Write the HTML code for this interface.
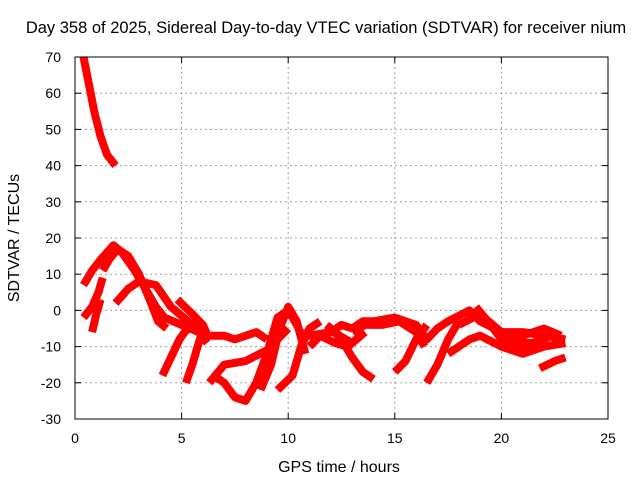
<!DOCTYPE html>
<html><head><meta charset="utf-8"><style>
body{margin:0;background:#fff}
svg text{font-family:"Liberation Sans",sans-serif;font-size:14px;fill:#000}
</style></head><body>
<svg id="c" width="640" height="480">
<text x="326" y="33" text-anchor="middle" style="font-size:16.5px">Day 358 of 2025, Sidereal Day-to-day VTEC variation (SDTVAR) for receiver nium</text>
<text x="339" y="472" text-anchor="middle" style="font-size:16px">GPS time / hours</text>
<text transform="translate(19,238) rotate(-90)" text-anchor="middle" style="font-size:16px">SDTVAR / TECUs</text>
<g id="grid"></g><g id="ticks"></g><g id="marks"></g>
<rect x="75" y="57" width="533" height="362" fill="none" stroke="#000"/>
</svg>
<script>
const xTicks=[0,5,10,15,20,25];
const yTicks=[70,60,50,40,30,20,10,0,-10,-20,-30];
const trackA=[[0.4,70],[0.6,64],[0.9,55],[1.2,48],[1.5,43],[1.9,40]];
const trackB=[[0.4,7],[0.8,11],[1.2,14],[1.8,18],[2.2,16],[2.8,11],[3.3,6],[3.8,1],[4.2,-2],[5,-4],[5.8,-6],[6.2,-9]];
const trackC=[[1.3,11],[1.6,14],[2,17],[2.5,15],[3,10],[3.5,3],[3.9,-3],[4.3,-5]];
const trackD=[[0.4,-2],[0.8,1],[1.1,5],[1.3,9]];
const trackE=[[0.8,-6],[1,-1],[1.2,3]];
const trackF=[[1.9,2],[2.5,6],[3,8],[3.8,7],[4.5,1],[5.5,-4],[6,-7]];
const trackG=[[4.1,-18],[4.5,-13],[4.9,-8],[5.2,-5.5],[5.8,-4]];
const trackH=[[5.2,-20],[5.5,-15],[5.9,-7],[6.2,-5]];
const trackI=[[4.8,3],[5.5,-1],[6,-4],[6.3,-8]];
const trackJ=[[6.3,-7],[7,-7],[7.5,-8],[8.5,-6],[9,-8]];
const trackK=[[6.5,-18],[7,-20],[7.5,-24],[8,-25],[8.5,-20],[9,-12],[9.5,-2],[10,0],[10.5,-5]];
const trackL=[[6.3,-20],[7,-15],[8,-14],[9,-11],[9.5,-8],[10,-5]];
const trackM=[[8.7,-22],[9.2,-15],[9.6,-5],[10,1],[10.4,-3],[10.8,-12]];
const trackN=[[9.5,-22],[10.2,-18],[10.6,-10],[11,-5],[11.5,-3]];
const trackO=[[10.5,-6],[11,-7],[12,-6],[12.5,-4],[13,-5],[13.5,-3],[14,-3],[15,-2],[16,-4],[16.5,-8],[17,-5],[17.5,-3],[18.5,0],[19,-3],[20,-6],[21,-6],[22,-7],[23,-8]];
const trackP=[[12,-5],[12.5,-8],[13,-13],[13.5,-17],[14,-19]];
const trackQ=[[15,-17],[15.5,-14],[16,-8],[16.5,-4]];
const trackR=[[16.5,-20],[17,-15],[17.5,-8],[18,-3]];
const trackS=[[17.5,-12],[18.5,-8],[19,-7],[20,-10],[21,-12],[22,-10],[23,-9]];
const trackT=[[18.8,1],[19.5,-4],[20,-8],[20.5,-11],[21.5,-11]];
const trackU=[[21.8,-16],[22.5,-14],[23,-13]];
const trackV=[[20,-9],[21,-7],[22,-5],[22.8,-7]];
const trackW=[[11,-10],[11.5,-7],[12.2,-9],[12.8,-10],[13.4,-7]];
const trackX=[[13,-6],[13.6,-4],[14.4,-4],[15.2,-3],[16,-6],[16.4,-10]];
const trackY=[[11.8,-4],[12.4,-7],[13,-9],[13.6,-6]];
const trackZ=[[18,-4],[19,-1],[19.8,-5],[20.6,-9],[21.4,-9],[22.2,-8]];
const tracks=[trackA,trackB,trackC,trackD,trackE,trackF,trackG,trackH,trackI,trackJ,trackK,trackL,trackM,trackN,trackO,trackP,trackQ,trackR,trackS,trackT,trackU,trackV,trackW,trackX,trackY,trackZ];
const X0=75,X1=608,Y0=419,Y1=57;
const sx=h=>X0+(h-0)/25*(X1-X0);
const sy=v=>Y0-(v+30)/100*(Y0-Y1);
const NS='http://www.w3.org/2000/svg';
const grid=document.getElementById('grid'),ticks=document.getElementById('ticks'),marks=document.getElementById('marks');
function mk(tag,a,p){const e=document.createElementNS(NS,tag);for(const k in a)e.setAttribute(k,a[k]);p.appendChild(e);return e;}
xTicks.forEach(t=>{const x=sx(t);
 if(t>0&&t<25){const g=mk('line',{x1:x,x2:x,y1:Y1,y2:Y0,stroke:'#a0a0a0','stroke-dasharray':'2,3'},grid);
 
 }
 const l=mk('line',{x1:x,x2:x,y1:Y0,y2:Y0-6,stroke:'#000'},ticks);
 
 
 mk('line',{x1:x,x2:x,y1:Y1,y2:Y1+6,stroke:'#000'},ticks);
 const tx=mk('text',{x:x,y:443,'text-anchor':'middle'},ticks);tx.textContent=t;
 
 });
yTicks.forEach(t=>{const y=sy(t);
 if(t>-30&&t<70){const g=mk('line',{x1:X0,x2:X1,y1:y,y2:y,stroke:'#a0a0a0','stroke-dasharray':'2,3'},grid);
 
 }
 const l=mk('line',{x1:X0,x2:X0+6,y1:y,y2:y,stroke:'#000'},ticks);
 
 
 mk('line',{x1:X1,x2:X1-6,y1:y,y2:y,stroke:'#000'},ticks);
 const tx=mk('text',{x:61,y:y+5,'text-anchor':'end'},ticks);tx.textContent=t;
 
 });
tracks.forEach(tr=>{const d=tr.map((p,i)=>(i?'L':'M')+sx(p[0]).toFixed(1)+','+sy(p[1]).toFixed(1)).join('');
 const p=mk('path',{d:d,fill:'none',stroke:'#ff0000','stroke-width':8,'stroke-linejoin':'round','stroke-linecap':'butt'},marks);
 
 });
</script>
</body></html>
